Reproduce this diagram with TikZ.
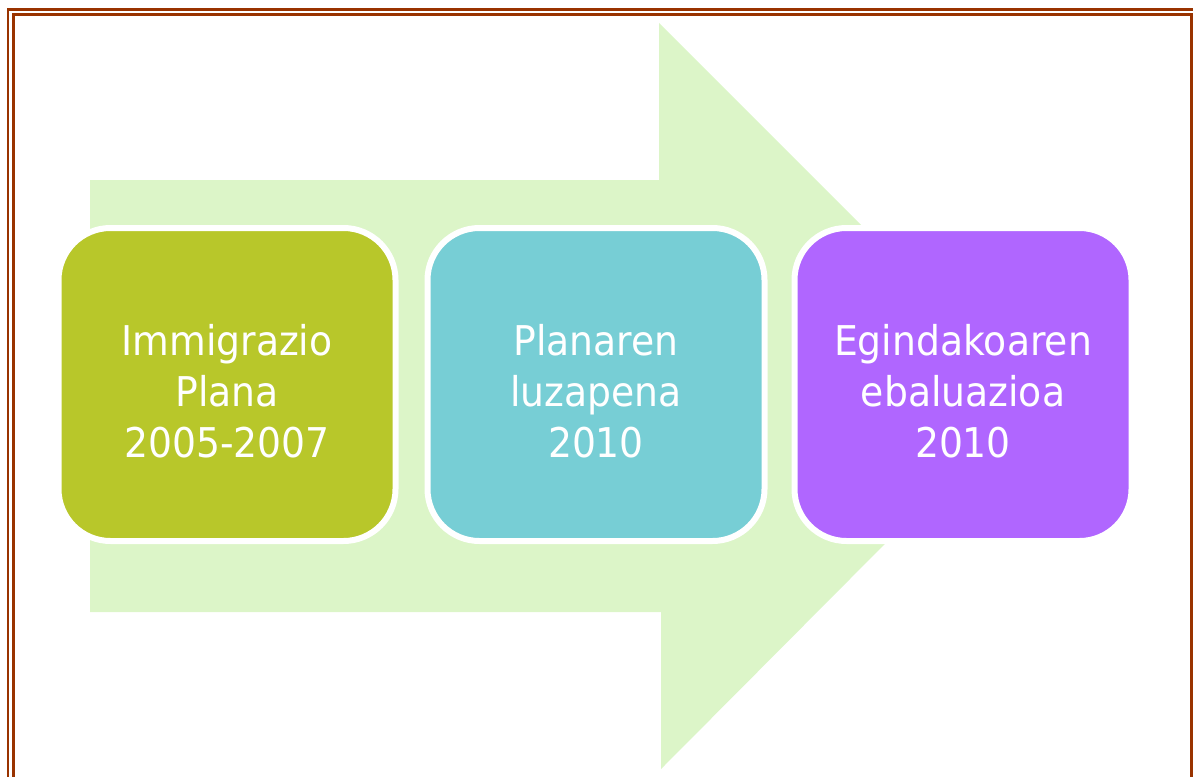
\documentclass[tikz,border=0pt]{standalone}
\usepackage{fontspec}
\newfontfamily\etapafont{DejaVu Sans}[FakeStretch=0.92]
\definecolor{marroi}{RGB}{153,51,0}
\definecolor{gezia}{RGB}{220,245,200}
\definecolor{berdea}{RGB}{184,199,42}
\definecolor{urdina}{RGB}{119,206,213}
\definecolor{morea}{RGB}{176,102,255}
\newcommand{\goia}{\rule{0pt}{44pt}}
\begin{document}
\begin{tikzpicture}[x=1pt,y=-1pt,
        etapa/.style={draw=white, line width=6pt, rounded corners=52pt,
            minimum width=337pt, minimum height=313pt, inner sep=0pt,
            text=white, align=center, font=\etapafont\fontsize{41}{51}\selectfont},
        ertza/.style={draw=marroi, line width=2.8pt}]
        \useasboundingbox (0,0) rectangle (1193,776);
        \clip (0,0) rectangle (1193,776);
        % orriaren ertza
        \draw [ertza] (8,800) -- (8,9.5) -- (1210,9.5);
        \draw [ertza] (13.7,800) -- (13.7,14.7) -- (1191.7,14.7) -- (1191.7,800);

        % gezia
        \fill [color=gezia] (90,180) -- (659,180) -- (659,23) -- (1032,396)
            -- (661,769) -- (661,612) -- (90,612) -- cycle;

        \node [etapa, fill=berdea] (plana) at (227,384.5) {\goia Immigrazio\\Plana\\2005-2007};
        \node [etapa, fill=urdina] (luzapena) at (596,384.5) {\goia Planaren\\luzapena\\2010};
        \node [etapa, fill=morea] (ebaluazioa) at (963,384.5) {\goia Egindakoaren\\ebaluazioa\\2010};
    \end{tikzpicture}
\end{document}
